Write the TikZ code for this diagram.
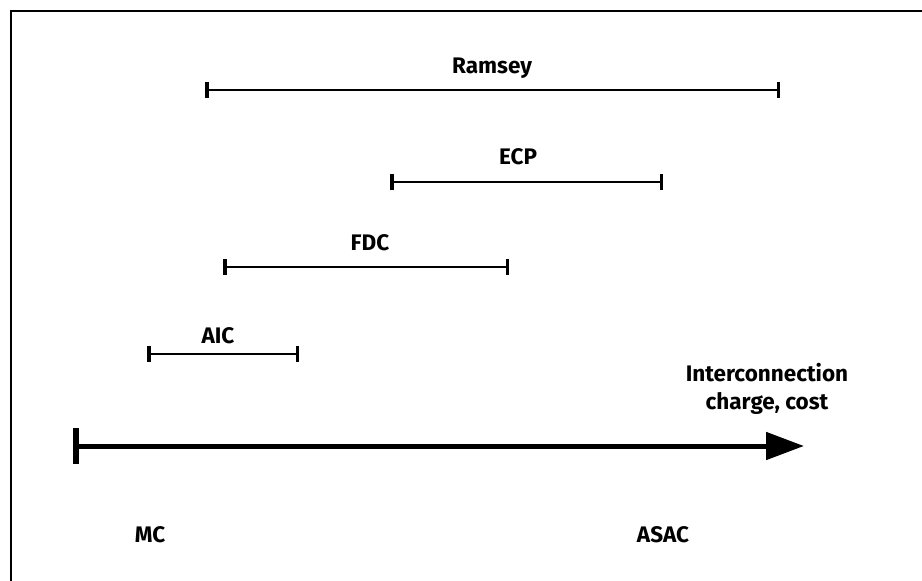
\documentclass[tikz,border=0pt]{standalone}
\usepackage{fontspec}
\setmainfont{Fira Sans}
\usetikzlibrary{arrows.meta}
\begin{document}
\begin{tikzpicture}[x=1pt,y=-1pt,
  lbl/.style={font=\fontsize{22.5}{28}\selectfont\bfseries, inner sep=0pt},
  rng/.style={line width=2.8pt, {Bar[width=16pt,line width=3.5pt]}-{Bar[width=16pt,line width=3.5pt]}},
  frame/.style={line width=2.5pt}]
\useasboundingbox (0,0) rectangle (922,581);
\draw[frame] (11,581) -- (11,11) -- (922,11);
% ranges
\coordinate (r1) at (205,90); \coordinate (r2) at (780,90);
\draw[rng] (r1) -- (r2);
\node[lbl] (ramsey) at (492,68) {Ramsey};
\coordinate (e1) at (390,182); \coordinate (e2) at (663,182);
\draw[rng] (e1) -- (e2);
\node[lbl] (ecp) at (518,157) {ECP};
\coordinate (f1) at (223,267); \coordinate (f2) at (509,267);
\draw[rng] (f1) -- (f2);
\node[lbl] (fdc) at (370,243) {FDC};
\coordinate (a1) at (147,354); \coordinate (a2) at (299,354);
\draw[rng] (a1) -- (a2);
\node[lbl] (aic) at (218,336) {AIC};
% axis
\coordinate (x0) at (73,446); \coordinate (x1) at (804,446);
\draw[line width=5pt, {Bar[width=36pt,line width=5.5pt]}-{Triangle[length=38pt,width=27pt]}] (x0) -- (x1);
\node[lbl, align=center] (axl) at (767,389) {Interconnection\\charge, cost};
\node[lbl] (mc) at (150,535) {MC};
\node[lbl] (asac) at (663,535) {ASAC};
\end{tikzpicture}
\end{document}
